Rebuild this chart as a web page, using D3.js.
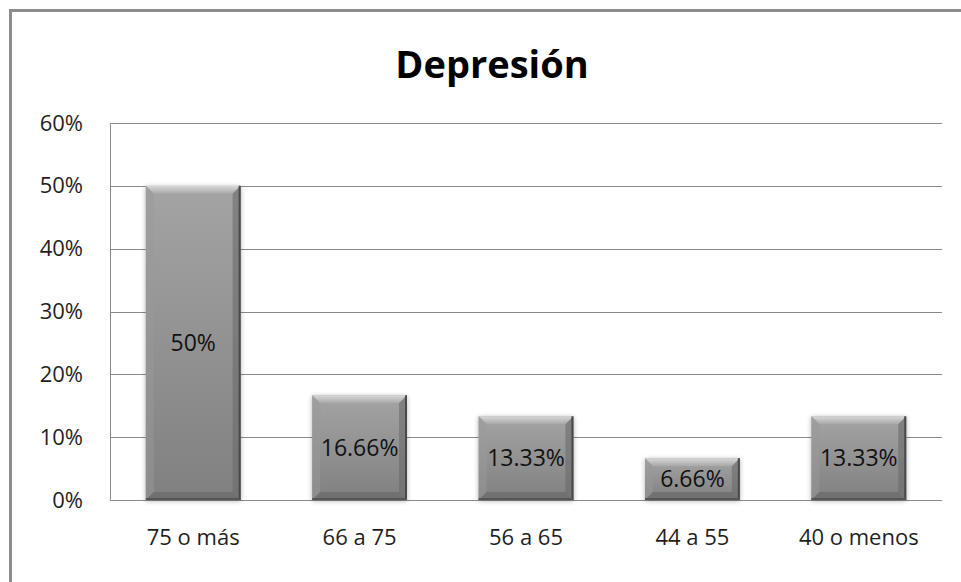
<!DOCTYPE html>
<html>
<head>
<meta charset="utf-8">
<script src="https://cdn.jsdelivr.net/npm/d3@7"></script>
<style>
  html, body { margin: 0; padding: 0; background: #fff; }
  svg { display: block; font-family: "Open Sans", sans-serif; }
</style>
</head>
<body>
<svg id="chart" width="961" height="582"></svg>
<script>
// Age groups and share of depression cases (%)
const categories = ["75 o más", "66 a 75", "56 a 65", "44 a 55", "40 o menos"];
const values = [50, 16.66, 13.33, 6.66, 13.33];
const valueLabels = ["50%", "16.66%", "13.33%", "6.66%", "13.33%"];
const yTicks = [0, 10, 20, 30, 40, 50, 60];
const title = "Depresión";

const svg = d3.select("#chart");
const plot = { left: 110, right: 942, top: 123, bottom: 500 };

// outer chart frame
svg.append("rect")
  .attr("x", 10.5).attr("y", 10.5).attr("width", 980).attr("height", 600)
  .attr("fill", "#fff").attr("stroke", "#8c8c8c").attr("stroke-width", 3);

const x = d3.scaleBand().domain(categories)
  .range([plot.left, plot.right]).paddingInner(0.43).paddingOuter(0.215);
const y = d3.scaleLinear().domain([0, 60]).range([plot.bottom, plot.top]);

// gridlines
svg.append("g").selectAll("line").data(yTicks).join("line")
  .attr("x1", plot.left).attr("x2", plot.right)
  .attr("y1", d => Math.round(y(d)) + 0.5).attr("y2", d => Math.round(y(d)) + 0.5)
  .attr("stroke", "#8a8a8a").attr("stroke-width", 1);
svg.append("line")
  .attr("x1", plot.left + 0.5).attr("x2", plot.left + 0.5)
  .attr("y1", plot.top).attr("y2", plot.bottom)
  .attr("stroke", "#8a8a8a");

// y axis labels
const yAxis = d3.axisLeft(y).tickValues(yTicks).tickFormat(d => d + "%").tickSize(0).tickPadding(27);
const gy = svg.append("g").attr("transform", `translate(${plot.left},0)`).call(yAxis);
gy.select(".domain").remove();
gy.selectAll("text").attr("font-size", 22).attr("fill", "#1f1f1f")
  .attr("font-family", "'Open Sans', sans-serif");

// x axis labels
const xAxis = d3.axisBottom(x).tickSize(0).tickPadding(29);
const gx = svg.append("g").attr("transform", `translate(0,${plot.bottom})`).call(xAxis);
gx.select(".domain").remove();
gx.selectAll("text").attr("font-size", 22).attr("fill", "#1f1f1f")
  .attr("font-family", "'Open Sans', sans-serif");

// gradients for bevelled bars
const defs = svg.append("defs");
const body = defs.append("linearGradient").attr("id", "barBody")
  .attr("x1", 0).attr("y1", 0).attr("x2", 0).attr("y2", 1);
body.append("stop").attr("offset", "0%").attr("stop-color", "#a4a4a4");
body.append("stop").attr("offset", "100%").attr("stop-color", "#808080");
const topBev = defs.append("linearGradient").attr("id", "topBev")
  .attr("x1", 0).attr("y1", 0).attr("x2", 0).attr("y2", 1);
topBev.append("stop").attr("offset", "0%").attr("stop-color", "#d8d8d8");
topBev.append("stop").attr("offset", "100%").attr("stop-color", "#a8a8a8");
const shadow = defs.append("filter").attr("id", "shadow")
  .attr("x", "-20%").attr("y", "-20%").attr("width", "140%").attr("height", "140%");
shadow.append("feGaussianBlur").attr("in", "SourceAlpha").attr("stdDeviation", 2.5).attr("result", "b");
shadow.append("feOffset").attr("in", "b").attr("dx", 0).attr("dy", 1).attr("result", "o");
shadow.append("feComponentTransfer").attr("in", "o").attr("result", "s")
  .append("feFuncA").attr("type", "linear").attr("slope", 0.3);
const merge = shadow.append("feMerge");
merge.append("feMergeNode").attr("in", "s");
merge.append("feMergeNode").attr("in", "SourceGraphic");

const data = categories.map((c, i) => ({ c, v: values[i], label: valueLabels[i] }));
const bev = 8;
const bars = svg.append("g").selectAll("g").data(data).join("g")
  .attr("filter", "url(#shadow)");

bars.each(function(d) {
  const g = d3.select(this);
  const x0 = x(d.c), w = x.bandwidth();
  const y0 = y(d.v), y1 = y(0), h = y1 - y0;
  g.append("rect").attr("x", x0).attr("y", y0).attr("width", w).attr("height", h)
    .attr("fill", "url(#barBody)");
  // top bevel
  g.append("path").attr("d",
    `M${x0},${y0}L${x0 + w},${y0}L${x0 + w - bev},${y0 + bev}L${x0 + bev},${y0 + bev}Z`)
    .attr("fill", "url(#topBev)");
  // left bevel
  g.append("path").attr("d",
    `M${x0},${y0}L${x0 + bev},${y0 + bev}L${x0 + bev},${y1 - bev}L${x0},${y1}Z`)
    .attr("fill", "#9a9a9a").attr("opacity", 0.5);
  // right bevel
  g.append("path").attr("d",
    `M${x0 + w},${y0}L${x0 + w - bev},${y0 + bev}L${x0 + w - bev},${y1 - bev}L${x0 + w},${y1}Z`)
    .attr("fill", "#6a6a6a").attr("opacity", 0.6);
  // bottom bevel
  g.append("path").attr("d",
    `M${x0},${y1}L${x0 + bev},${y1 - bev}L${x0 + w - bev},${y1 - bev}L${x0 + w},${y1}Z`)
    .attr("fill", "#666").attr("opacity", 0.6);
  // dark edges
  g.append("line").attr("x1", x0 + w - 1).attr("x2", x0 + w - 1).attr("y1", y0).attr("y2", y1)
    .attr("stroke", "#4a4a4a").attr("stroke-width", 2);
  g.append("line").attr("x1", x0).attr("x2", x0 + w).attr("y1", y1 - 1).attr("y2", y1 - 1)
    .attr("stroke", "#555").attr("stroke-width", 2);
});

// value labels, centred inside each bar
svg.append("g").selectAll("text").data(data).join("text")
  .attr("x", d => x(d.c) + x.bandwidth() / 2)
  .attr("y", d => (y(d.v) + y(0)) / 2)
  .attr("dy", "0.35em")
  .attr("text-anchor", "middle")
  .attr("font-size", 23).attr("fill", "#111")
  .text(d => d.label);

// title
svg.append("text").attr("x", 492).attr("y", 78)
  .attr("text-anchor", "middle").attr("font-size", 38).attr("font-weight", "bold")
  .attr("fill", "#000").text(title);
</script>
</body>
</html>
